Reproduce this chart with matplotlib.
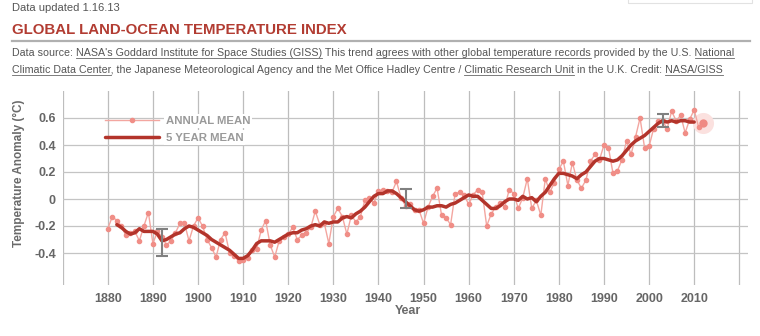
import numpy as np
import matplotlib
matplotlib.use("Agg")
import matplotlib.pyplot as plt
from matplotlib import font_manager
from matplotlib.font_manager import FontProperties
from matplotlib.patches import Rectangle

# --- data ---
annual_years = list(range(1880, 2012))
annual_mean = [
    -0.22, -0.13, -0.16, -0.20, -0.27, -0.25, -0.24, -0.31, -0.20, -0.10,
    -0.33, -0.24, -0.28, -0.34, -0.31, -0.25, -0.18, -0.18, -0.31, -0.20,
    -0.14, -0.20, -0.30, -0.36, -0.43, -0.30, -0.25, -0.40, -0.42, -0.46,
    -0.45, -0.44, -0.38, -0.37, -0.23, -0.16, -0.34, -0.43, -0.31, -0.28,
    -0.26, -0.21, -0.30, -0.27, -0.25, -0.21, -0.09, -0.19, -0.18, -0.33,
    -0.13, -0.07, -0.13, -0.26, -0.12, -0.17, -0.13, -0.01, 0.01, -0.03,
    0.06, 0.07, 0.06, 0.05, 0.13, 0.01, -0.05, -0.04, -0.08, -0.08,
    -0.18, -0.06, 0.02, 0.08, -0.12, -0.14, -0.19, 0.04, 0.05, 0.03,
    -0.04, 0.03, 0.07, 0.05, -0.20, -0.11, -0.06, -0.03, -0.06, 0.07,
    0.04, -0.07, 0.01, 0.15, -0.07, -0.01, -0.12, 0.15, 0.05, 0.12,
    0.22, 0.28, 0.10, 0.27, 0.14, 0.08, 0.14, 0.28, 0.33, 0.29,
    0.40, 0.38, 0.19, 0.21, 0.29, 0.43, 0.33, 0.46, 0.60, 0.38,
    0.39, 0.52, 0.58, 0.58, 0.52, 0.65, 0.58, 0.62, 0.49, 0.59,
    0.66, 0.53,
]

five_year_years = list(range(1882, 2011))
five_year_mean = [
    -0.19, -0.21, -0.24, -0.26, -0.25, -0.22, -0.24, -0.24,
    -0.24, -0.26, -0.31, -0.30, -0.28, -0.26, -0.25, -0.22, -0.20, -0.21,
    -0.23, -0.25, -0.27, -0.30, -0.32, -0.34, -0.36, -0.38, -0.41, -0.44,
    -0.44, -0.42, -0.38, -0.33, -0.31, -0.31, -0.31, -0.32, -0.30, -0.28,
    -0.26, -0.25, -0.25, -0.23, -0.22, -0.20, -0.19, -0.20, -0.17, -0.18,
    -0.17, -0.17, -0.14, -0.13, -0.14, -0.11, -0.09, -0.06, -0.02, 0.02,
    0.04, 0.04, 0.06, 0.06, 0.04, 0.01, -0.02, -0.05, -0.08, -0.09,
    -0.08, -0.06, -0.06, -0.05, -0.05, -0.06, -0.04, -0.03, -0.01, 0.01,
    0.03, 0.02, 0.02, -0.01, -0.04, -0.07, -0.07, -0.05, -0.02, 0.00,
    0.00, -0.01, 0.02, 0.00, 0.01, -0.02, 0.02, 0.05, 0.10, 0.15,
    0.19, 0.19, 0.18, 0.17, 0.15, 0.18, 0.20, 0.24, 0.28, 0.30,
    0.30, 0.29, 0.28, 0.29, 0.32, 0.36, 0.40, 0.43, 0.45, 0.47,
    0.50, 0.53, 0.56, 0.58, 0.57, 0.58, 0.57, 0.58, 0.58, 0.57,
    0.57,
]

latest_year = 2012
latest_value = 0.56

err_years = [1892, 1946, 2003]
err_centers = [-0.32, 0.005, 0.58]
err_sizes = [0.10, 0.07, 0.05]

x_ticks = list(range(1880, 2020, 10))
x_grid = list(range(1870, 2030, 10))
y_ticks = [-0.4, -0.2, 0, 0.2, 0.4, 0.6]
y_tick_labels = ["-0.4", "-0.2", "0", "0.2", "0.4", "0.6"]

# --- fonts ---
names = {f.name for f in font_manager.fontManager.ttflist}
narrow = "Liberation Sans Narrow" if "Liberation Sans Narrow" in names else "Liberation Sans"
plt.rcParams["font.family"] = [narrow, "DejaVu Sans"]

W, H = 760, 336
fig = plt.figure(figsize=(W / 100, H / 100), dpi=100)
fig.patch.set_facecolor("white")

def fx(px):
    return px / W

def fy(py):
    return 1 - py / H

# axes
ax = fig.add_axes([fx(62.7), fy(285.4), fx(748.3) - fx(62.7), fy(91) - fy(285.4)])
ax.set_xlim(1870, 2022)
ax.set_ylim(-0.64, 0.8)
for s in ax.spines.values():
    s.set_visible(False)

for g in x_grid:
    ax.axvline(g, color="#bdbdbd", lw=0.9, zorder=0)
for t in y_ticks:
    ax.axhline(t, color="#c4c4c4", lw=0.9, zorder=0)

ax.set_xticks(x_ticks)
ax.set_xticklabels([str(t) for t in x_ticks])
ax.set_yticks(y_ticks)
ax.set_yticklabels(y_tick_labels)
ax.tick_params(length=0, colors="#666666", labelsize=9, pad=5)
for lab in ax.get_xticklabels() + ax.get_yticklabels():
    lab.set_fontweight("bold")
ax.tick_params(axis="x", pad=5.5)

# series
l_annual, = ax.plot(annual_years, annual_mean, color="#f3a6a0", lw=1.0,
                    marker="o", ms=3.0, mfc="#f08e87", mec="#f08e87",
                    zorder=3, label="ANNUAL MEAN")
l_five, = ax.plot(five_year_years, five_year_mean, color="#b3342b", lw=2.5,
                  zorder=4, label="5 YEAR MEAN", solid_capstyle="round")
ax.errorbar(err_years, err_centers, yerr=err_sizes, fmt="none", ecolor="#808080",
            elinewidth=1.5, capsize=4, capthick=1.5, zorder=5)
ax.scatter([latest_year], [latest_value], s=230, color="#fbe1df", zorder=2, lw=0)
ax.scatter([latest_year], [latest_value], s=36, color="#ef8a83", zorder=6, lw=0)

leg = ax.legend(handles=[l_annual, l_five], loc="upper left",
                bbox_to_anchor=(0.062, 0.87), frameon=False, numpoints=1,
                handlelength=4.7, handletextpad=0.6, labelspacing=0.55,
                borderpad=0.0, borderaxespad=0.0,
                prop=FontProperties(family=[narrow, "DejaVu Sans"], size=8.2, weight="bold"))
for t in leg.get_texts():
    t.set_color("#9a9a9a")
    t.set_bbox(dict(facecolor="white", edgecolor="none", pad=1.5))

fig.text(fx(19), fy(173), "Temperature Anomaly (°C)", rotation=90, ha="center",
         va="center", fontsize=8.5, fontweight="bold", color="#6a6a6a")
fig.text(fx(408), fy(311), "Year", ha="center", va="center", fontsize=9,
         fontweight="bold", color="#6a6a6a")

# header
fig.text(fx(12), fy(8), "Data updated 1.16.13", ha="left", va="center",
         fontsize=8, color="#555555")
fig.text(fx(12), fy(30), "GLOBAL LAND-OCEAN TEMPERATURE INDEX", ha="left", va="center",
         fontsize=10.8, fontweight="bold", color="#b23c32")
fig.add_artist(plt.Line2D([fx(12), fx(750)], [fy(41), fy(41)], color="#b0b0b0", lw=1.6))
fig.add_artist(Rectangle((fx(628), fy(3)), fx(752) - fx(628), fy(-5) - fy(3),
                         facecolor="none", edgecolor="#e2e2e2", lw=0.8))

src_fp = FontProperties(family=[narrow, "DejaVu Sans"], size=7.7)
renderer = fig.canvas.get_renderer()

def text_w(s):
    w_dot = renderer.get_text_width_height_descent(".", src_fp, ismath=False)[0]
    return renderer.get_text_width_height_descent(s + ".", src_fp, ismath=False)[0] - w_dot

def source_line(x0, y0, segments):
    full = "".join(s for s, u in segments)
    fig.text(fx(x0), fy(y0), full, fontproperties=src_fp, color="#555555",
             ha="left", va="baseline")
    prefix = ""
    for s, u in segments:
        if u:
            a = x0 + text_w(prefix)
            b = x0 + text_w(prefix + s)
            fig.add_artist(plt.Line2D([fx(a), fx(b)], [fy(y0 + 2), fy(y0 + 2)],
                                      color="#666666", lw=0.6))
        prefix += s

source_line(12, 56, [
    ("Data source: ", False),
    ("NASA's Goddard Institute for Space Studies (GISS)", True),
    (" This trend ", False),
    ("agrees with other global temperature records", True),
    (" provided by the U.S. ", False),
    ("National", True),
])
source_line(12, 73, [
    ("Climatic Data Center", True),
    (", the Japanese Meteorological Agency and the Met Office Hadley Centre / ", False),
    ("Climatic Research Unit", True),
    (" in the U.K. Credit: ", False),
    ("NASA/GISS", True),
])

fig.savefig("out.png", dpi=100)
